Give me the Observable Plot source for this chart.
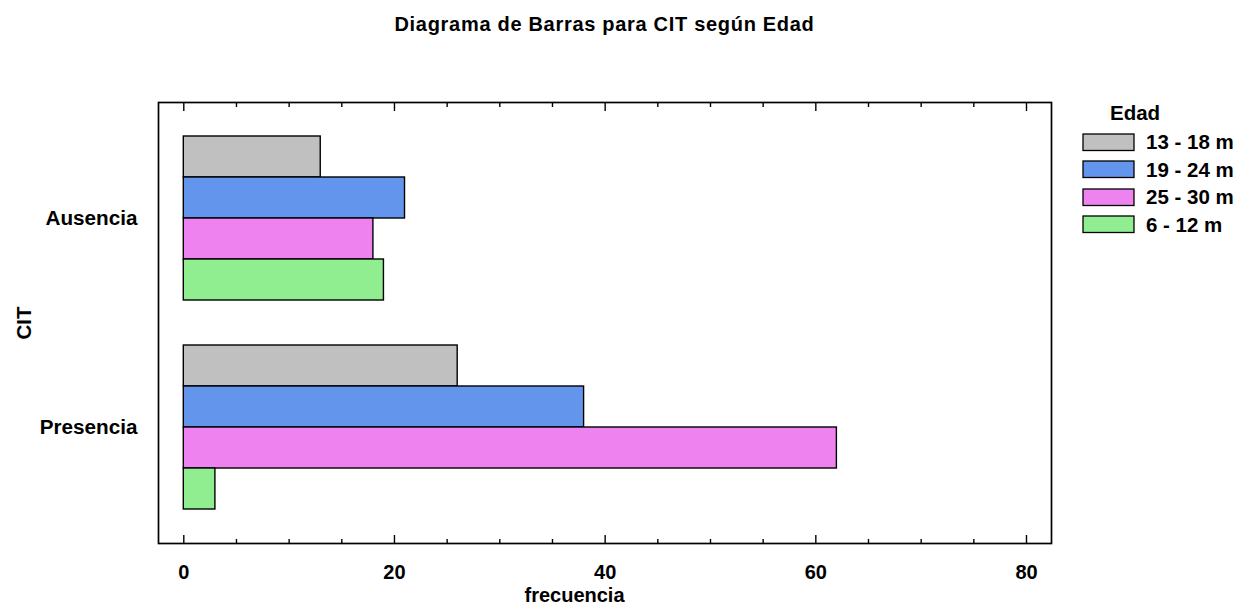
<!DOCTYPE html>
<html><head><meta charset="utf-8">
<script src="https://cdn.jsdelivr.net/npm/d3@7"></script>
<script src="https://cdn.jsdelivr.net/npm/@observablehq/plot@0.6"></script>
<style>
body{margin:0;background:#fff;font-family:"Liberation Sans",Arial,sans-serif;font-weight:bold;color:#000;position:relative;width:1251px;height:608px;overflow:hidden}
#title{box-sizing:border-box;height:56px;padding-top:14px;line-height:20px;width:1209px;text-align:center;font-size:20px;letter-spacing:0.7px}
#legend{position:absolute;left:1083px;top:102.5px;font-size:20.5px}
#legend .ttl{margin-left:27px;line-height:20px;height:20px;margin-bottom:5.75px}
#legend .leg-swatch{height:27.5px;padding:0;display:flex;align-items:center}
#legend .leg-swatch svg{margin-right:12px}
#legend rect{stroke:#000;stroke-width:1.3px}
</style></head>
<body>
<div id="title">Diagrama de Barras para CIT según Edad</div>
<div id="chart"></div>
<div id="legend"><div class="ttl">Edad</div></div>
<script>
const categories = ["Ausencia", "Presencia"];
const ages = ["13 - 18 m", "19 - 24 m", "25 - 30 m", "6 - 12 m"];
const ausencia = [13, 21, 18, 19];
const presencia = [26, 38, 62, 3];
const colors = ["#c0c0c0", "#6495ed", "#ee82ee", "#90ee90"];
const majorTicks = [0, 20, 40, 60, 80];
const minorTicks = [5, 10, 15, 25, 30, 35, 45, 50, 55, 65, 70, 75];

const data = [];
categories.forEach((c, i) => {
  const vals = i === 0 ? ausencia : presencia;
  ages.forEach((a, j) => data.push({CIT: c, Edad: a, n: vals[j]}));
});

const FONT = '"Liberation Sans", Arial, sans-serif';
const OUT = 33; // outer gap between the frame and the bar groups
const tickOpts = {tickFormat: () => "", strokeWidth: 1.4, label: null};

const chart = Plot.plot({
  width: 1251, height: 552,
  marginTop: 79, marginBottom: 97, marginLeft: 158, marginRight: 200,
  style: {fontFamily: FONT, fontSize: "20px", fontWeight: "bold", color: "#000", background: "#fff", overflow: "visible"},
  x: {domain: [0, 80], insetLeft: 25.3, insetRight: 25},
  y: {domain: ages, axis: null, padding: 0},
  fy: {domain: categories, paddingInner: 0.205, paddingOuter: 0},
  color: {domain: ages, range: colors},
  marks: [
    Plot.barX(data, {fy: "CIT", y: "Edad", x: "n", fill: "Edad", stroke: "#000", strokeWidth: 1.4}),
    Plot.frame({facet: "super", stroke: "#000", strokeWidth: 1.7, insetTop: -OUT, insetBottom: -OUT}),
    Plot.axisX({anchor: "bottom", ticks: minorTicks, tickSize: -4, dy: OUT, ...tickOpts}),
    Plot.axisX({anchor: "bottom", ticks: majorTicks, tickSize: -8, dy: OUT, ...tickOpts}),
    Plot.axisX({anchor: "top", ticks: minorTicks, tickSize: -4, dy: -OUT, ...tickOpts}),
    Plot.axisX({anchor: "top", ticks: majorTicks, tickSize: -8, dy: -OUT, ...tickOpts}),
    Plot.axisX({anchor: "bottom", ticks: majorTicks, tickSize: 0, tickPadding: 21, dy: OUT, fontSize: 20, label: null}),
    Plot.axisFy({anchor: "left", tickSize: 0, tickPadding: 21, fontSize: 20.7, label: null}),
    Plot.text(["CIT"], {facet: "super", text: d => d, frameAnchor: "left", textAnchor: "middle", lineAnchor: "middle", rotate: -90, dx: -134.5, fontSize: 20.5}),
    Plot.text(["frecuencia"], {facet: "super", text: d => d, frameAnchor: "bottom", textAnchor: "middle", lineAnchor: "middle", dx: -30.5, dy: 85, fontSize: 20})
  ]
});
document.getElementById("chart").appendChild(chart);

const leg = Plot.legend({
  color: {domain: ages, range: colors},
  legend: "swatches", columns: 1, swatchWidth: 51, swatchHeight: 16.5, className: "leg",
  style: {fontFamily: FONT, fontSize: "20.5px", fontWeight: "bold", margin: "0", color: "#000"}
});
document.getElementById("legend").appendChild(leg);
</script>
</body></html>
